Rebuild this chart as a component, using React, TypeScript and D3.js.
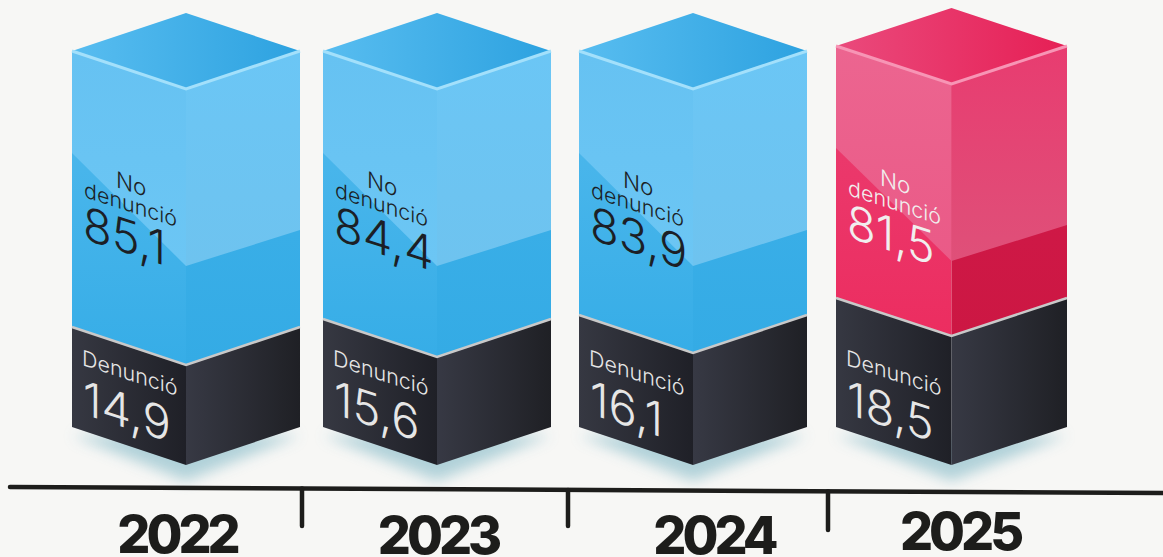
import React from "react";
import * as d3 from "d3";

const years = ["2022", "2023", "2024", "2025"];
const noDenuncio = [85.1, 84.4, 83.9, 81.5];
const denuncio = [14.9, 15.6, 16.1, 18.5];
const labelNo = ["No", "denunció"];
const labelSi = "Denunció";
const fmt = (v: number) => v.toFixed(1).replace(".", ",");

const W = 1163, H = 557;
const xLeft = d3.scaleOrdinal<string, number>().domain(years).range([72, 323, 579, 836]);
const xWidth = d3.scaleOrdinal<string, number>().domain(years).range([228, 228, 228, 231]);
const ySplit = d3.scaleLinear().domain([14.9, 15.6, 16.1, 18.5]).range([327, 319, 315, 298]);
const yTop = d3.scaleLinear().domain([81.5, 83.9, 85.1]).range([46, 51, 51]);
const yBase = 427;
const dip = 38;
const axisX = d3.scaleLinear().domain([10, 1163]).range([487, 493]);
const tickX = d3.scaleOrdinal<string, number>().domain(years.slice(0, 3)).range([302, 568, 828]);
const tickEnd = d3.scaleOrdinal<string, number>().domain(years.slice(0, 3)).range([526, 526, 530]);
const yearX = d3.scaleOrdinal<string, number>().domain(years).range([177, 438, 714, 960]);
const yearY = d3.scaleOrdinal<string, number>().domain(years).range([553, 554, 554, 550]);

const pts = (p: number[][]) => p.map((q) => q.join(",")).join(" ");
const FONT = "Inter, 'Open Sans', sans-serif";

const palettes = {
  blue: {
    top: ["#58bdf0", "#2da2e0"], edge: "#a3e0fb",
    upL: ["#66c2f2", "#6cc6f4"], upR: ["#6bc6f5", "#6ec3ef"],
    lowL: ["#53baed", "#36ade7"], lowR: ["#40b2ea", "#34abe5"],
    ink: "#1c1f26",
  },
  pink: {
    top: ["#ea4a7c", "#e61f55"], edge: "#f795b5",
    upL: ["#ec6590", "#ea5a87"], upR: ["#e83c70", "#df5079"],
    lowL: ["#ea3f72", "#ec2d60"], lowR: ["#d21a4b", "#cc1743"],
    ink: "#f1eeee",
  },
};

function Bar({ i }: { i: number }) {
  const year = years[i];
  const x0 = xLeft(year), w = xWidth(year), xm = x0 + w / 2, x1 = x0 + w;
  const top = yTop(noDenuncio[i]), split = ySplit(denuncio[i]);
  const pal = i === 3 ? palettes.pink : palettes.blue;
  const id = `b${i}`;
  const glossL = top + 102, glossM = top + 215, glossR = top + 179;
  const grad = (name: string, c: string[], vertical = false) => (
    <linearGradient id={`${id}${name}`} x1="0" y1="0" x2={vertical ? 0 : 1} y2={vertical ? 1 : 0}>
      <stop offset="0" stopColor={c[0]} />
      <stop offset="1" stopColor={c[1]} />
    </linearGradient>
  );
  const ty = (y: number, dx: number) => `translate(${x0 + dx},${y}) skewY(18)`;
  const topOff = i === 3 ? -2 : 0;
  return (
    <g>
      <defs>
        {grad("top", pal.top)}
        {grad("upL", pal.upL, true)}
        {grad("upR", pal.upR, true)}
        {grad("lowL", pal.lowL, true)}
        {grad("lowR", pal.lowR, true)}
        {grad("dkL", ["#363842", "#1f2027"])}
        {grad("dkR", ["#373944", "#1f2025"])}
      </defs>
      <polygon
        points={pts([[x0, yBase + 8], [xm, yBase + dip + 16], [x1, yBase + 8], [xm, yBase + 10]])}
        fill="#a9cdd6" filter="url(#soft)" opacity={0.9}
      />
      <polygon points={pts([[x0, top], [xm, top - dip], [x1, top], [xm, top + dip]])} fill={`url(#${id}top)`} />
      <polygon points={pts([[x0, top], [xm, top + dip], [xm, split + dip], [x0, split]])} fill={`url(#${id}lowL)`} />
      <polygon points={pts([[xm, top + dip], [x1, top], [x1, split], [xm, split + dip]])} fill={`url(#${id}lowR)`} />
      <polygon points={pts([[x0, top], [xm, top + dip], [xm, glossM], [x0, glossL]])} fill={`url(#${id}upL)`} />
      <polygon points={pts([[xm, top + dip], [x1, top], [x1, glossR], [xm, glossM]])} fill={`url(#${id}upR)`} />
      <polygon points={pts([[x0, split], [xm, split + dip], [xm, yBase + dip], [x0, yBase]])} fill={`url(#${id}dkL)`} />
      <polygon points={pts([[xm, split + dip], [x1, split], [x1, yBase], [xm, yBase + dip]])} fill={`url(#${id}dkR)`} />
      <polyline points={pts([[x0, top], [xm, top + dip], [x1, top]])} fill="none" stroke={pal.edge} strokeWidth={3} />
      <polyline points={pts([[x0, split], [xm, split + dip], [x1, split]])} fill="none" stroke="#c9c9c9" strokeWidth={2.5} />

      <g fontFamily={FONT} fontWeight={300} fill={pal.ink}>
        <text transform={ty(187 + topOff, 44)} fontSize={22.5}>{labelNo[0]}</text>
        <text transform={ty(197 + topOff, 12)} fontSize={21.5}>{labelNo[1]}</text>
        <text transform={ty(239 + topOff, 11)} fontSize={47} fontWeight={300}>{fmt(noDenuncio[i])}</text>
      </g>
      <g fontFamily={FONT} fontWeight={300} fill="#e6e6e6">
        <text transform={ty(365, 10)} fontSize={21.5}>{labelSi}</text>
        <text transform={ty(414, 11)} fontSize={47} fontWeight={300}>{fmt(denuncio[i])}</text>
      </g>
    </g>
  );
}

export default function App() {
  return (
    <svg width={W} height={H} viewBox={`0 0 ${W} ${H}`}
      style={{ position: "fixed", left: 0, top: 0, background: "#f7f7f5", display: "block" }}>
      <defs>
        <filter id="soft" x="-20%" y="-60%" width="140%" height="220%">
          <feGaussianBlur stdDeviation="7" />
        </filter>
      </defs>
      <rect width={W} height={H} fill="#f7f7f5" />
      {years.map((_, i) => <Bar key={i} i={i} />)}
      <line x1={10} x2={1163} y1={axisX(10)} y2={axisX(1163)} stroke="#1d1d1b" strokeWidth={4.5} strokeLinecap="round" />
      {years.slice(0, 3).map((y) => (
        <line key={y} x1={tickX(y)} x2={tickX(y)} y1={axisX(tickX(y))} y2={tickEnd(y)}
          stroke="#1d1d1b" strokeWidth={4.5} strokeLinecap="round" />
      ))}
      {years.map((y) => (
        <text key={y} x={yearX(y)} y={yearY(y)} textAnchor="middle" fontFamily={FONT}
          fontWeight={800} fontSize={52} letterSpacing={-4} fill="#1d1d1b">{y}</text>
      ))}
    </svg>
  );
}
